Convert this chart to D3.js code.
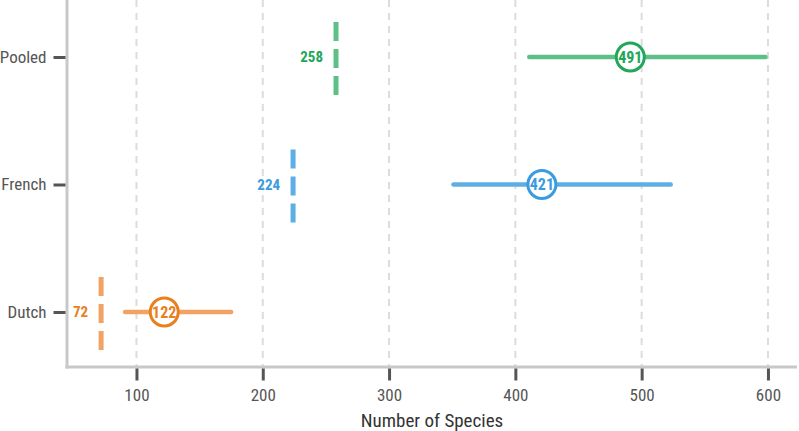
<!DOCTYPE html>
<html>
<head>
<meta charset="utf-8">
<script src="https://cdn.jsdelivr.net/npm/d3@7"></script>
<style>
  body { margin: 0; background: #fff; }
  svg text { font-family: "Roboto Condensed", "Liberation Sans Narrow", Roboto, sans-serif; font-stretch: condensed; }
</style>
</head>
<body>
<div id="wrapper"></div>
<script>
// data
const groups = ["Dutch", "French", "Pooled"]
const observed = [72, 224, 258]
const estimate = [122, 421, 491]
const lower = [91, 351, 411]
const upper = [175, 523, 598]
const xTicks = [100, 200, 300, 400, 500, 600]
const lineColors = ["#f2a262", "#5eaee6", "#5cc088"]
const darkColors = ["#e8801e", "#3a9be0", "#22a65a"]

const data = groups.map((g, i) => ({
    group: g, obs: observed[i], est: estimate[i], lo: lower[i], hi: upper[i],
    light: lineColors[i], dark: darkColors[i]
}))

// dimensions
const dimensions = {
    width: 799,
    height: 431,
    margins: { top: 0, right: 2, left: 67, bottom: 64 }
}
dimensions.boundedWidth = dimensions.width - dimensions.margins.left - dimensions.margins.right
dimensions.boundedHeight = dimensions.height - dimensions.margins.top - dimensions.margins.bottom

const wrapper = d3.select("#wrapper")
    .append("svg")
        .attr("width", dimensions.width)
        .attr("height", dimensions.height)

const bounds = wrapper.append("g")
    .attr("transform", `translate(${dimensions.margins.left},${dimensions.margins.top})`)

// scales
const xScale = d3.scaleLinear()
    .domain([45, 623])
    .range([0, dimensions.boundedWidth])

const yScale = d3.scalePoint()
    .domain(["Pooled", "French", "Dutch"])
    .range([57, 312])

// grid
bounds.selectAll(".grid")
    .data(xTicks)
    .enter().append("line")
        .attr("x1", d => xScale(d))
        .attr("x2", d => xScale(d))
        .attr("y1", 0)
        .attr("y2", dimensions.boundedHeight)
        .attr("stroke", "#dcdcdc")
        .attr("stroke-width", 2)
        .attr("stroke-dasharray", "7,6")

// axes lines
bounds.append("line")
    .attr("x1", 0).attr("x2", 0)
    .attr("y1", 0).attr("y2", dimensions.boundedHeight + 1.5)
    .attr("stroke", "#c8c8c8").attr("stroke-width", 3)
bounds.append("line")
    .attr("x1", -1.5).attr("x2", dimensions.boundedWidth)
    .attr("y1", dimensions.boundedHeight).attr("y2", dimensions.boundedHeight)
    .attr("stroke", "#c8c8c8").attr("stroke-width", 3)

const xAxis = bounds.append("g")
    .attr("transform", `translate(0,${dimensions.boundedHeight + 1.5})`)
    .call(d3.axisBottom(xScale).tickValues(xTicks).tickSize(12).tickPadding(8))
xAxis.select(".domain").remove()
xAxis.selectAll(".tick line").attr("stroke", "#555").attr("stroke-width", 3)
xAxis.selectAll(".tick text").attr("fill", "#555").style("font-size", "17px")

xAxis.append("text")
    .attr("x", dimensions.boundedWidth / 2)
    .attr("y", 58)
    .attr("fill", "#333")
    .attr("text-anchor", "middle")
    .style("font-size", "19px")
    .text("Number of Species")

const yAxis = bounds.append("g")
    .attr("transform", "translate(-1.5,0)")
    .call(d3.axisLeft(yScale).tickSize(12).tickPadding(7))
yAxis.select(".domain").remove()
yAxis.selectAll(".tick line").attr("stroke", "#555").attr("stroke-width", 3)
yAxis.selectAll(".tick text").attr("fill", "#555").style("font-size", "17px")

// data marks
const rows = bounds.selectAll(".row")
    .data(data)
    .enter().append("g")

rows.append("line")
    .attr("x1", d => xScale(d.obs))
    .attr("x2", d => xScale(d.obs))
    .attr("y1", d => yScale(d.group) - 35)
    .attr("y2", d => yScale(d.group) + 39)
    .attr("stroke", d => d.light)
    .attr("stroke-width", 5)
    .attr("stroke-dasharray", "19,8")

rows.append("text")
    .attr("x", d => xScale(d.obs) - 13)
    .attr("y", d => yScale(d.group))
    .attr("dy", "0.35em")
    .attr("text-anchor", "end")
    .attr("fill", d => d.dark)
    .style("font-size", "15px")
    .style("font-weight", "bold")
    .text(d => d.obs)

rows.append("line")
    .attr("x1", d => xScale(d.lo))
    .attr("x2", d => xScale(d.hi))
    .attr("y1", d => yScale(d.group))
    .attr("y2", d => yScale(d.group))
    .attr("stroke", d => d.light)
    .attr("stroke-width", 4.5)
    .attr("stroke-linecap", "round")

rows.append("circle")
    .attr("cx", d => xScale(d.est))
    .attr("cy", d => yScale(d.group))
    .attr("r", 14)
    .attr("fill", "#fff")
    .attr("stroke", d => d.dark)
    .attr("stroke-width", 3)

rows.append("text")
    .attr("x", d => xScale(d.est))
    .attr("y", d => yScale(d.group))
    .attr("dy", "0.36em")
    .attr("text-anchor", "middle")
    .attr("fill", d => d.dark)
    .style("font-size", "16px")
    .style("font-weight", "bold")
    .text(d => d.est)
</script>
</body>
</html>
